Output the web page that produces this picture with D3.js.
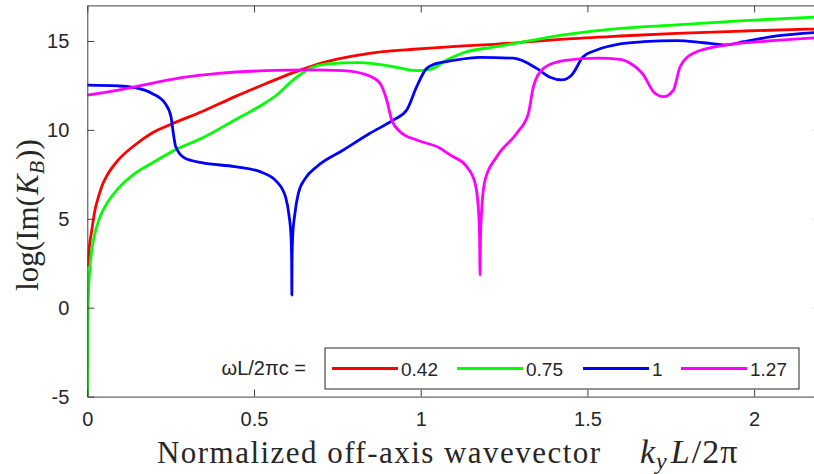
<!DOCTYPE html>
<html>
<head>
<meta charset="utf-8">
<script src="https://cdn.jsdelivr.net/npm/d3@7"></script>
<style>
  body { margin: 0; background: #fff; }
  svg { display: block; }
</style>
</head>
<body>
<svg id="chart" width="814" height="474"></svg>
<script>
// Axis ticks
const xTicks = [0, 0.5, 1, 1.5, 2];
const yTicks = [-5, 0, 5, 10, 15];

// Legend
const legendTitle = "\u03C9L/2\u03C0c =";
const seriesLabels = ["0.42", "0.75", "1", "1.27"];
const seriesColors = ["#ff0000", "#00ff00", "#0000ff", "#ff00ff"];

// omega L / 2 pi c = 0.42
const ky042 = [0.002, 0.006, 0.013, 0.022, 0.033, 0.045, 0.063, 0.093, 0.143, 0.193, 0.253, 0.343, 0.443, 0.533, 0.618, 0.718, 0.768, 0.818, 0.868, 0.918, 0.968, 1.028, 1.128, 1.228, 1.328, 1.428, 1.598, 1.768, 1.968, 2.2];
const im042 = [2.4, 3.4, 4.3, 5.4, 6.2, 6.9, 7.56, 8.31, 9.15, 9.81, 10.33, 11.02, 11.87, 12.58, 13.22, 13.84, 14.05, 14.22, 14.36, 14.45, 14.52, 14.6, 14.72, 14.82, 14.96, 15.10, 15.28, 15.43, 15.56, 15.68];

// omega L / 2 pi c = 0.75
const ky075 = [0.0003, 0.001, 0.002, 0.004, 0.008, 0.014, 0.023, 0.035, 0.053, 0.093, 0.143, 0.193, 0.263, 0.343, 0.443, 0.518, 0.568, 0.618, 0.668, 0.718, 0.818, 0.918, 0.988, 1.028, 1.078, 1.128, 1.228, 1.328, 1.428, 1.598, 1.768, 1.968, 2.2];
const im075 = [-5, -2.5, -0.5, 1.0, 2.3, 3.3, 4.2, 4.95, 5.68, 6.71, 7.56, 8.12, 8.87, 9.53, 10.56, 11.34, 11.96, 12.81, 13.46, 13.71, 13.78, 13.55, 13.33, 13.4, 13.93, 14.34, 14.68, 15.02, 15.34, 15.71, 15.90, 16.14, 16.36];

// omega L / 2 pi c = 1
const ky100 = [0, 0.093, 0.143, 0.193, 0.233, 0.251, 0.258, 0.265, 0.293, 0.343, 0.443, 0.518, 0.568, 0.595, 0.605, 0.611, 0.613, 0.6135, 0.614, 0.616, 0.622, 0.633, 0.655, 0.688, 0.768, 0.848, 0.918, 0.958, 0.988, 1.018, 1.058, 1.078, 1.178, 1.278, 1.348, 1.388, 1.423, 1.453, 1.488, 1.528, 1.598, 1.668, 1.768, 1.848, 1.918, 1.968, 2.068, 2.2];
const im100 = [12.52, 12.47, 12.37, 12.06, 11.5, 10.74, 9.81, 9.06, 8.40, 8.16, 7.93, 7.65, 7.09, 6.2, 5.2, 4.0, 2.5, 0.71, 2.5, 4.0, 5.2, 6.43, 7.3, 7.93, 8.87, 9.81, 10.56, 11.12, 12.43, 13.46, 13.78, 13.84, 14.08, 14.03, 13.46, 12.96, 12.81, 13.09, 14.12, 14.49, 14.83, 14.96, 15.02, 14.9, 14.78, 14.96, 15.28, 15.5];

// omega L / 2 pi c = 1.27
const ky127 = [0, 0.093, 0.193, 0.293, 0.393, 0.533, 0.668, 0.768, 0.838, 0.878, 0.898, 0.913, 0.938, 0.988, 1.058, 1.088, 1.138, 1.163, 1.172, 1.1765, 1.178, 1.1795, 1.184, 1.193, 1.228, 1.288, 1.323, 1.338, 1.368, 1.428, 1.528, 1.598, 1.628, 1.668, 1.698, 1.728, 1.758, 1.778, 1.818, 1.918, 2.018, 2.2];
const im127 = [11.96, 12.24, 12.62, 12.96, 13.18, 13.33, 13.37, 13.33, 13.09, 12.62, 11.68, 10.56, 9.90, 9.43, 8.97, 8.59, 7.93, 7.0, 5.8, 4.0, 1.84, 4.0, 5.8, 7.18, 8.49, 9.81, 10.93, 12.43, 13.46, 13.89, 14.03, 13.97, 13.75, 13.09, 12.15, 11.87, 12.24, 13.55, 14.31, 14.78, 14.96, 15.2];

const kySeries = [ky042, ky075, ky100, ky127];
const imSeries = [im042, im075, im100, im127];

const svg = d3.select("#chart");
const plot = { left: 87.3, top: 5.4, right: 820.8, bottom: 396.6 };

const x = d3.scaleLinear().domain([0, 2.2]).range([plot.left, plot.right]);
const y = d3.scaleLinear().domain([-5, 17]).range([plot.bottom, plot.top]);

const axisColor = "#404040";
const textColor = "#262626";
const tickFont = "'Liberation Sans', Arial, sans-serif";
const mathFont = "'Liberation Serif', 'Times New Roman', serif";
const fmt = d => String(d).replace("\u2212", "-");

svg.append("rect").attr("width", 814).attr("height", 474).attr("fill", "#fff");

// Curves, clipped to the axes box
svg.append("defs").append("clipPath").attr("id", "plotClip")
  .append("rect")
  .attr("x", plot.left).attr("y", plot.top)
  .attr("width", plot.right - plot.left).attr("height", plot.bottom - plot.top);

const line = d3.line()
  .x(d => x(d[0]))
  .y(d => y(d[1]))
  .curve(d3.curveMonotoneX);

const curves = svg.append("g").attr("clip-path", "url(#plotClip)");
kySeries.forEach((ks, i) => {
  const pts = ks.map((k, j) => [k, imSeries[i][j]]);
  curves.append("path")
    .datum(pts)
    .attr("d", line)
    .attr("fill", "none")
    .attr("stroke", seriesColors[i])
    .attr("stroke-width", 2.8)
    .attr("stroke-linejoin", "round")
    .attr("stroke-linecap", "round");
});

// Axes box with inward ticks on all four sides
const tickLen = 7;
function styleAxis(g) {
  g.select(".domain").attr("stroke", axisColor).attr("stroke-width", 1);
  g.selectAll(".tick line").attr("stroke", axisColor).attr("stroke-width", 1);
  g.selectAll(".tick text").attr("fill", textColor)
    .attr("font-family", tickFont).attr("font-size", 20);
}

svg.append("g")
  .attr("transform", `translate(0,${plot.bottom})`)
  .call(d3.axisBottom(x).tickValues(xTicks).tickSizeInner(-tickLen).tickSizeOuter(0)
    .tickPadding(15).tickFormat(fmt))
  .call(styleAxis);

svg.append("g")
  .attr("transform", `translate(0,${plot.top})`)
  .call(d3.axisTop(x).tickValues(xTicks).tickSizeInner(-tickLen).tickSizeOuter(0).tickFormat(""))
  .call(styleAxis);

svg.append("g")
  .attr("transform", `translate(${plot.left},0)`)
  .call(d3.axisLeft(y).tickValues(yTicks).tickSizeInner(-tickLen).tickSizeOuter(0)
    .tickPadding(18).tickFormat(fmt))
  .call(styleAxis);

svg.append("g")
  .attr("transform", `translate(${plot.right},0)`)
  .call(d3.axisRight(y).tickValues(yTicks).tickSizeInner(-tickLen).tickSizeOuter(0).tickFormat(""))
  .call(styleAxis);

// Axis titles
const yTitle = svg.append("text")
  .attr("transform", `translate(38,215) rotate(-90)`)
  .attr("text-anchor", "middle")
  .attr("font-family", mathFont)
  .attr("font-size", 31)
  .attr("fill", textColor);
yTitle.append("tspan").text("log(Im(");
yTitle.append("tspan").attr("font-style", "italic").attr("dx", 1).text("K");
yTitle.append("tspan").attr("font-style", "italic").attr("font-size", 22).attr("dy", 6).text("B");
yTitle.append("tspan").attr("dy", -6).attr("dx", 1).text("))");

svg.append("text")
  .attr("x", 157).attr("y", 463)
  .attr("font-family", mathFont).attr("font-size", 31).attr("fill", textColor)
  .attr("textLength", 443).attr("lengthAdjust", "spacing")
  .text("Normalized off-axis wavevector");

const xMath = svg.append("text")
  .attr("x", 640).attr("y", 463)
  .attr("font-family", mathFont).attr("font-size", 34).attr("fill", textColor);
xMath.append("tspan").attr("font-style", "italic").text("k");
xMath.append("tspan").attr("font-style", "italic").attr("font-size", 24).attr("dy", 6).attr("dx", 1).text("y");
xMath.append("tspan").attr("font-style", "italic").attr("dy", -6).attr("dx", 4).text("L");
xMath.append("tspan").attr("dx", 2).text("/");
xMath.append("tspan").attr("dx", 1).text("2");
xMath.append("tspan").attr("dx", 1).text("\u03C0");

// Legend
svg.append("text")
  .attr("x", 306).attr("y", 375)
  .attr("text-anchor", "end")
  .attr("font-family", tickFont).attr("font-size", 20).attr("fill", textColor)
  .text(legendTitle);

const legend = svg.append("g");
legend.append("rect")
  .attr("x", 325).attr("y", 348).attr("width", 474).attr("height", 41)
  .attr("fill", "#fff").attr("stroke", textColor).attr("stroke-width", 1);

const entryX = [332, 457, 583, 681];
seriesLabels.forEach((lab, i) => {
  legend.append("line")
    .attr("x1", entryX[i]).attr("x2", entryX[i] + 66)
    .attr("y1", 368.5).attr("y2", 368.5)
    .attr("stroke", seriesColors[i]).attr("stroke-width", 2.8);
  legend.append("text")
    .attr("x", entryX[i] + 69).attr("y", 375.5)
    .attr("font-family", tickFont).attr("font-size", 19).attr("fill", textColor)
    .text(lab);
});
</script>
</body>
</html>
